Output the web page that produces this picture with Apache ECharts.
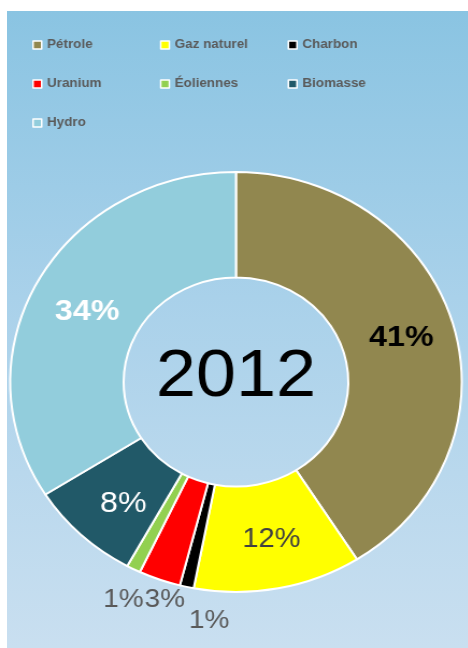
<!DOCTYPE html>
<html>
<head>
<meta charset="utf-8">
<script src="https://cdn.jsdelivr.net/npm/echarts@6/dist/echarts.min.js"></script>
<style>
  html, body { margin: 0; padding: 0; background: #ffffff; width: 468px; height: 648px; overflow: hidden; }
  #panel { position: absolute; left: 7px; top: 11px; width: 461px; height: 637px;
           background: linear-gradient(to bottom, #8AC4E2 0%, #A9D1EA 45%, #C9DFF0 100%); }
  #chart { position: absolute; left: 0; top: 0; width: 435.35px; height: 648px;
           transform: scaleX(1.075); transform-origin: 0 0; }
</style>
</head>
<body>
<div id="panel"></div>
<div id="chart"></div>
<script>
// ---- data ----
const categories = ['Pétrole', 'Gaz naturel', 'Charbon', 'Uranium', 'Éoliennes', 'Biomasse', 'Hydro'];
const shares = [41, 12, 1, 3, 1, 8, 34];
const colors = ['#91874F', '#FFFF00', '#000000', '#FF0000', '#92D050', '#215968', '#92CDDC'];
const centerLabel = '2012';

// ---- label styles per slice ----
const labelStyles = [
  { color: '#000000', fontSize: 30, fontWeight: 'bold' },
  { color: '#404040', fontSize: 27, fontWeight: 'normal' },
  { color: '#595959', fontSize: 26, fontWeight: 'normal' },
  { color: '#595959', fontSize: 26, fontWeight: 'normal' },
  { color: '#595959', fontSize: 26, fontWeight: 'normal' },
  { color: '#ffffff', fontSize: 30, fontWeight: 'normal' },
  { color: '#ffffff', fontSize: 30, fontWeight: 'bold' }
];
// nudges for labels (thin slices sit outside the ring)
const labelNudge = { 1: [3, 0], 2: [10, 82], 3: [-12, 67], 4: [-32, 75], 5: [5, 5], 6: [2, 7] };

const chart = echarts.init(document.getElementById('chart'), null, { renderer: 'canvas' });

const pieData = categories.map((name, i) => ({
  name: name,
  value: shares[i],
  itemStyle: { color: colors[i] },
  label: Object.assign({}, labelStyles[i])
}));

chart.setOption({
  backgroundColor: 'transparent',
  animation: false,
  color: colors,
  legend: {
    data: categories,
    left: 25,
    top: 33,
    width: 370,
    orient: 'horizontal',
    icon: 'rect',
    itemWidth: 8,
    itemHeight: 8,
    itemGap: 25,
    itemStyle: { borderColor: '#ffffff', borderWidth: 1.5 },
    textStyle: {
      fontFamily: 'Liberation Sans, Arial, sans-serif',
      fontSize: 12.5,
      fontWeight: 'bold',
      color: '#5a5a5a',
      width: 80,
      lineHeight: 14
    },
    selectedMode: false
  },
  graphic: [{
    type: 'text',
    x: 219.5,
    y: 378,
    style: {
      text: centerLabel,
      fill: '#000000',
      font: 'normal 67px "Liberation Sans", Arial, sans-serif',
      textAlign: 'center',
      textVerticalAlign: 'middle'
    },
    z: 10
  }],
  series: [{
    type: 'pie',
    center: [219.5, 382],
    radius: [104.5, 210],
    startAngle: 90,
    clockwise: true,
    avoidLabelOverlap: false,
    itemStyle: { borderColor: '#ffffff', borderWidth: 2 },
    label: {
      show: true,
      position: 'inside',
      fontFamily: 'Liberation Sans, Arial, sans-serif',
      formatter: p => Math.round(p.percent) + '%'
    },
    labelLine: { show: false },
    labelLayout: function (params) {
      const n = labelNudge[params.dataIndex];
      return n ? { dx: n[0], dy: n[1] } : {};
    },
    emphasis: { disabled: true },
    data: pieData
  }]
});
</script>
</body>
</html>
